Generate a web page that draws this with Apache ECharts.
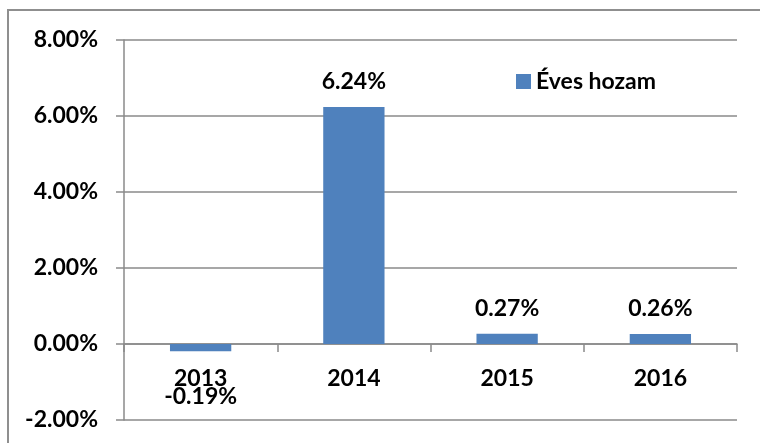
<!DOCTYPE html>
<html>
<head>
<meta charset="utf-8">
<script src="https://cdn.jsdelivr.net/npm/echarts@6/dist/echarts.min.js"></script>
<style>
  html, body { margin: 0; padding: 0; background: #fff; overflow: hidden; }
  #frame { position: absolute; left: 7px; top: 9px; width: 900px; height: 600px;
           border-left: 2px solid #8f8f8f; border-top: 2px solid #8f8f8f; box-sizing: border-box; }
  #chart { position: absolute; left: 0; top: 0; width: 760px; height: 443px; }
</style>
</head>
<body>
<div id="frame"></div>
<div id="chart"></div>
<script>
const categories = ['2013', '2014', '2015', '2016'];
const seriesName = 'Éves hozam';
const values = [-0.19, 6.24, 0.27, 0.26];
const yMin = -2, yMax = 8, yStep = 2;

const FONT = 'Lato, "Liberation Sans", sans-serif';
const FS = 23;
const pct = v => v.toFixed(2) + '%';

const chart = echarts.init(document.getElementById('chart'), null, { renderer: 'canvas' });
chart.setOption({
  backgroundColor: 'transparent',
  animation: false,
  textStyle: { fontFamily: FONT },
  grid: { left: 124, right: 23, top: 40, bottom: 23, containLabel: false, outerBoundsMode: 'none' },
  legend: {
    data: [seriesName],
    left: 511, top: 65,
    itemWidth: 15, itemHeight: 15, itemGap: 10,
    icon: 'rect',
    textStyle: { fontFamily: FONT, fontWeight: 'bold', fontSize: FS, color: '#000' }
  },
  xAxis: {
    type: 'category',
    data: categories,
    axisLine: { onZero: true, onZeroAxisIndex: 0, lineStyle: { color: '#8a8a8a', width: 1.5 } },
    axisTick: { show: true, length: 8, lineStyle: { color: '#8a8a8a', width: 1.5 } },
    axisLabel: { margin: -53, fontFamily: FONT, fontWeight: 'bold', fontSize: FS, color: '#000' },
    splitLine: { show: false }
  },
  yAxis: {
    type: 'value',
    min: yMin, max: yMax, interval: yStep,
    axisLine: { show: true, lineStyle: { color: '#8a8a8a', width: 1.5 } },
    axisTick: { show: true, length: 8, lineStyle: { color: '#8a8a8a', width: 1.5 } },
    axisLabel: { margin: 26, fontFamily: FONT, fontWeight: 'bold', fontSize: FS, color: '#000', formatter: v => pct(v) },
    splitLine: { show: true, lineStyle: { color: '#8a8a8a', width: 1.5 } }
  },
  series: [{
    name: seriesName,
    type: 'bar',
    barWidth: '40%',
    itemStyle: { color: '#4F81BD' },
    label: {
      show: true, position: 'top', distance: 14,
      fontFamily: FONT, fontWeight: 'bold', fontSize: FS, color: '#000',
      formatter: p => pct(p.value)
    },
    data: values.map(v => v < 0 ? { value: v, label: { position: 'bottom', distance: 34 } } : v)
  }]
});
</script>
</body>
</html>
